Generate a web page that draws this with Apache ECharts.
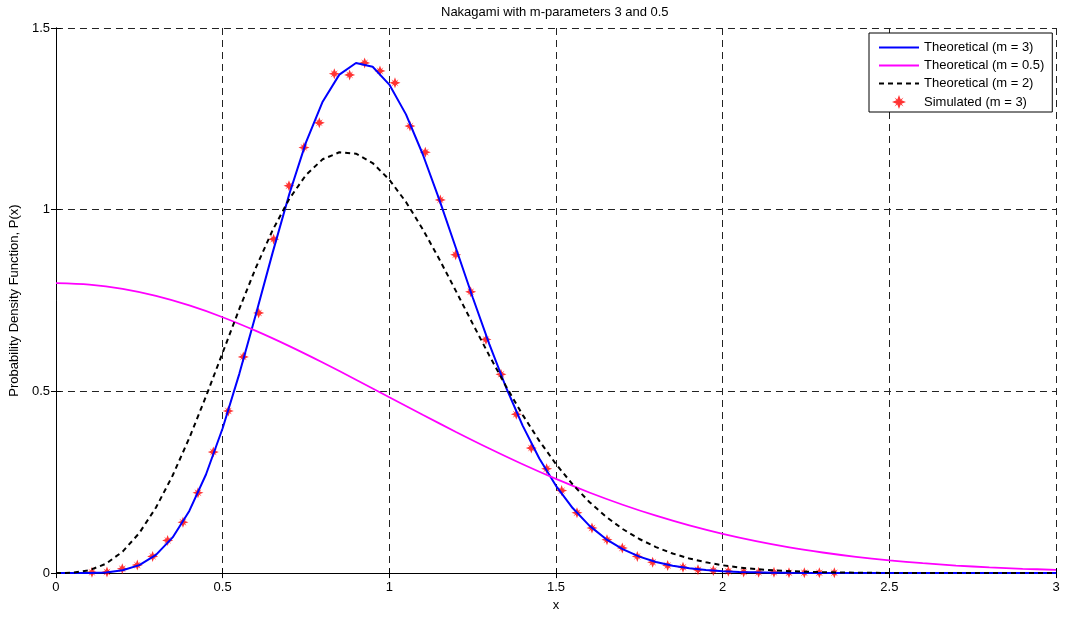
<!DOCTYPE html>
<html>
<head>
<meta charset="utf-8">
<title>Nakagami</title>
<script src="https://cdn.jsdelivr.net/npm/echarts@6/dist/echarts.min.js"></script>
<style>
  html, body { margin: 0; padding: 0; background: #fff; }
  #chart { width: 1065px; height: 617px; }
</style>
</head>
<body>
<div id="chart"></div>
<script>
// x grid of the theoretical curves (m = 3 and m = 2)
const xFine = [0, 0.05, 0.1, 0.15, 0.2, 0.25, 0.3, 0.35, 0.4, 0.45, 0.5, 0.55, 0.6, 0.65, 0.7, 0.75, 0.8, 0.85, 0.9, 0.95,
  1, 1.05, 1.1, 1.15, 1.2, 1.25, 1.3, 1.35, 1.4, 1.45, 1.5, 1.55, 1.6, 1.65, 1.7, 1.75, 1.8, 1.85, 1.9, 1.95,
  2, 2.05, 2.1, 2.15, 2.2, 2.25, 2.3, 2.35, 2.4, 2.45, 2.5, 2.55, 2.6, 2.65, 2.7, 2.75, 2.8, 2.85, 2.9, 2.95, 3];
const theoM3 = [0, 0, 0.0003, 0.0019, 0.0077, 0.0219, 0.0501, 0.0982, 0.1711, 0.2714, 0.3986, 0.5483, 0.7130, 0.8819, 1.0433, 1.1853, 1.2971, 1.3717, 1.4036, 1.3933,
  1.3443, 1.2623, 1.1533, 1.0278, 0.8938, 0.7591, 0.6301, 0.5114, 0.4059, 0.3155, 0.2401, 0.1790, 0.1307, 0.0936, 0.0658, 0.0453, 0.0306, 0.0203, 0.0132, 0.0085,
  0.0053, 0.0033, 0.0020, 0.0012, 0.0007, 0.0004, 0.0002, 0.0001, 0.0001, 0, 0, 0, 0, 0, 0, 0, 0, 0, 0, 0, 0];
const theoM2 = [0, 0.0010, 0.0078, 0.0258, 0.0591, 0.1103, 0.1804, 0.2685, 0.3718, 0.4862, 0.6065, 0.7269, 0.8412, 0.9438, 1.0298, 1.0957, 1.1387, 1.1580, 1.1541, 1.1283,
  1.0827, 1.0213, 0.9468, 0.8639, 0.7759, 0.6865, 0.5985, 0.5142, 0.4355, 0.3639, 0.3000, 0.2440, 0.1958, 0.1552, 0.1214, 0.0938, 0.0716, 0.0539, 0.0402, 0.0296,
  0.0215, 0.0154, 0.0109, 0.0077, 0.0053, 0.0037, 0.0025, 0.0017, 0.0011, 0.0007, 0.0005, 0.0003, 0.0002, 0.0001, 0.0001, 0.0001, 0, 0, 0, 0, 0];

// m = 0.5 curve
const xHalf = [0, 0.1, 0.2, 0.3, 0.4, 0.5, 0.6, 0.7, 0.8, 0.9, 1, 1.1, 1.2, 1.3, 1.4, 1.5, 1.6, 1.7, 1.8, 1.9,
  2, 2.1, 2.2, 2.3, 2.4, 2.5, 2.6, 2.7, 2.8, 2.9, 3];
const theoM05 = [0.7979, 0.7939, 0.7821, 0.7627, 0.7365, 0.7041, 0.6664, 0.6245, 0.5794, 0.5322, 0.4839, 0.4357, 0.3884, 0.3428, 0.2995, 0.2591,
  0.2218, 0.1881, 0.1579, 0.1312, 0.1080, 0.0880, 0.0709, 0.0567, 0.0448, 0.0351, 0.0272, 0.0208, 0.0158, 0.0119, 0.0089];

// simulated histogram points (m = 3)
const xSim = [0.108, 0.153, 0.199, 0.244, 0.290, 0.335, 0.381, 0.426, 0.472, 0.517, 0.562, 0.608, 0.653, 0.699, 0.744, 0.790, 0.835, 0.881, 0.926, 0.972,
  1.017, 1.062, 1.108, 1.153, 1.199, 1.244, 1.290, 1.335, 1.381, 1.426, 1.472, 1.517, 1.563, 1.608, 1.653, 1.699, 1.744, 1.790, 1.835, 1.881,
  1.926, 1.972, 2.017, 2.063, 2.108, 2.154, 2.199, 2.245, 2.290, 2.335];
const simM3 = [0.002, 0.003, 0.012, 0.022, 0.046, 0.090, 0.140, 0.221, 0.333, 0.446, 0.595, 0.716, 0.919, 1.066, 1.171, 1.239, 1.374, 1.371, 1.404, 1.382,
  1.349, 1.230, 1.158, 1.027, 0.876, 0.774, 0.643, 0.547, 0.437, 0.344, 0.287, 0.227, 0.166, 0.124, 0.092, 0.069, 0.046, 0.030, 0.021, 0.016,
  0.009, 0.007, 0.005, 0.003, 0.002, 0.002, 0.001, 0.001, 0.001, 0.001];

const xTicks = [0, 3, 0.5];   // min, max, step
const yTicks = [0, 1.5, 0.5];

function pairs(xs, ys) {
  return xs.map((x, i) => [x, ys[i]]);
}

const FONT = 'Liberation Sans';
// fat red "*" marker like matlab
const star = 'path://M10,0L12.4,6.4L16.4,3.6L13.6,7.6L20,10L13.6,12.4L16.4,16.4L12.4,13.6L10,20L7.6,13.6L3.6,16.4L6.4,12.4L0,10L6.4,7.6L3.6,3.6L7.6,6.4Z';

const gridDash = { show: true, lineStyle: { color: '#222', width: 1, type: [7, 5] } };
const blackLine = { show: true, lineStyle: { color: '#000', width: 1 } };
const inTick = { show: true, inside: true, length: 5, lineStyle: { color: '#000' } };
const tickLbl = { color: '#000', fontSize: 13, fontFamily: FONT };
const noDot = { opacity: 0 };

let myChart = echarts.init(document.getElementById('chart'), null, { renderer: 'canvas' });

let option = {
  backgroundColor: '#fff',
  animation: false,
  title: {
    text: 'Nakagami with m-parameters 3 and 0.5',
    left: 441,
    top: 6,
    padding: 0,
    textStyle: { color: '#000', fontSize: 13, fontWeight: 'normal', fontFamily: FONT }
  },
  grid: { left: 54, right: 9, top: 28, bottom: 40, containLabel: false },
  legend: {
    orient: 'vertical',
    left: 869,
    top: 33,
    padding: [8, 8, 3, 9],
    itemGap: 5,
    itemWidth: 40,
    itemHeight: 14,
    backgroundColor: '#fff',
    borderColor: '#000',
    borderWidth: 1,
    textStyle: { color: '#000', fontSize: 13, fontFamily: FONT },
    data: [
      { name: 'Theoretical (m = 3)', itemStyle: noDot },
      { name: 'Theoretical (m = 0.5)', itemStyle: noDot },
      { name: 'Theoretical (m = 2)', itemStyle: noDot },
      { name: 'Simulated (m = 3)' }
    ]
  },
  xAxis: [
    {
      type: 'value', min: xTicks[0], max: xTicks[1], interval: xTicks[2],
      name: 'x', nameLocation: 'middle', nameGap: 21,
      nameTextStyle: { color: '#000', fontSize: 13, fontFamily: FONT },
      axisLine: blackLine, axisTick: inTick,
      axisLabel: Object.assign({ margin: 8 }, tickLbl),
      splitLine: gridDash
    },
    {
      type: 'value', position: 'top', min: xTicks[0], max: xTicks[1], interval: xTicks[2],
      axisLine: blackLine, axisTick: inTick, axisLabel: { show: false }, splitLine: { show: false }
    }
  ],
  yAxis: [
    {
      type: 'value', min: yTicks[0], max: yTicks[1], interval: yTicks[2],
      name: 'Probability Density Function, P(x)', nameLocation: 'middle', nameGap: 29,
      nameTextStyle: { color: '#000', fontSize: 13, fontFamily: FONT },
      axisLine: blackLine, axisTick: inTick,
      axisLabel: Object.assign({ margin: 6 }, tickLbl),
      splitLine: gridDash
    },
    {
      type: 'value', position: 'right', min: yTicks[0], max: yTicks[1], interval: yTicks[2],
      axisLine: blackLine, axisTick: inTick, axisLabel: { show: false }, splitLine: { show: false }
    }
  ],
  series: [
    {
      name: 'Theoretical (m = 3)', type: 'line', symbol: 'none',
      lineStyle: { color: '#0000ff', width: 2 }, itemStyle: { color: '#0000ff' },
      data: pairs(xFine, theoM3)
    },
    {
      name: 'Theoretical (m = 0.5)', type: 'line', symbol: 'none', smooth: 0.3,
      lineStyle: { color: '#ff00ff', width: 1.8 }, itemStyle: { color: '#ff00ff' },
      data: pairs(xHalf, theoM05)
    },
    {
      name: 'Theoretical (m = 2)', type: 'line', symbol: 'none',
      lineStyle: { color: '#000', width: 2, type: [5, 4] }, itemStyle: { color: '#000' },
      data: pairs(xFine, theoM2)
    },
    {
      name: 'Simulated (m = 3)', type: 'scatter', symbol: star, symbolSize: 11,
      itemStyle: { color: '#ff0000' },
      data: pairs(xSim, simM3)
    }
  ]
};

myChart.setOption(option);
</script>
</body>
</html>
